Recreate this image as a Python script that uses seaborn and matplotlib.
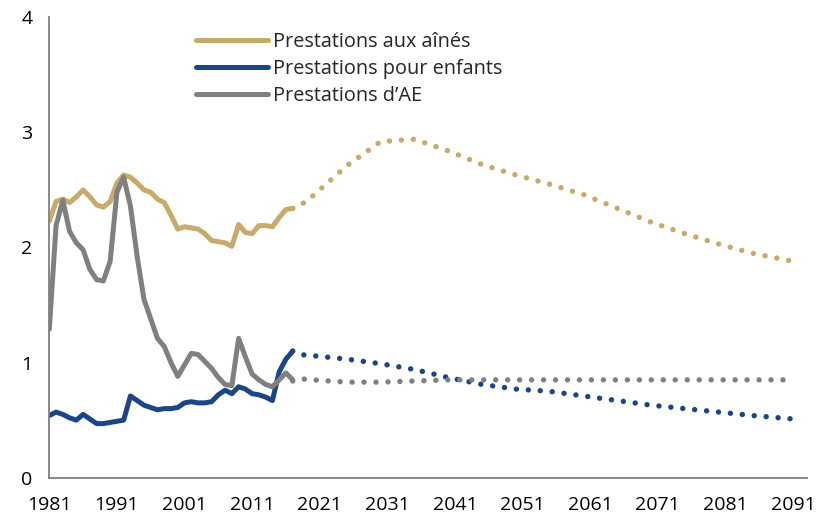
import pandas as pd
import numpy as np
import matplotlib.pyplot as plt
import seaborn as sns
from matplotlib.lines import Line2D

# historical data, 1981-2017
hist_years = list(range(1981, 2018))
aines_hist = [2.23, 2.40, 2.42, 2.39, 2.44, 2.50, 2.44, 2.37, 2.35, 2.40,
              2.56, 2.63, 2.61, 2.56, 2.50, 2.48, 2.42, 2.39, 2.28, 2.16,
              2.18, 2.17, 2.16, 2.12, 2.06, 2.05, 2.04, 2.01, 2.20, 2.13,
              2.12, 2.19, 2.19, 2.18, 2.26, 2.33, 2.34]
enfants_hist = [0.54, 0.57, 0.55, 0.52, 0.50, 0.55, 0.51, 0.47, 0.47, 0.48,
                0.49, 0.50, 0.71, 0.67, 0.63, 0.61, 0.59, 0.60, 0.60, 0.61,
                0.65, 0.66, 0.65, 0.65, 0.66, 0.72, 0.76, 0.73, 0.79, 0.77,
                0.73, 0.72, 0.70, 0.67, 0.92, 1.03, 1.10]
ae_hist = [1.29, 2.19, 2.41, 2.14, 2.04, 1.98, 1.81, 1.72, 1.71, 1.88,
           2.48, 2.61, 2.36, 1.92, 1.55, 1.38, 1.21, 1.14, 1.00, 0.88,
           0.98, 1.08, 1.07, 1.01, 0.95, 0.87, 0.81, 0.80, 1.21, 1.05,
           0.90, 0.85, 0.81, 0.79, 0.85, 0.91, 0.85]

# projections
proj_years = [2017, 2018, 2020, 2025, 2030, 2035, 2040, 2045, 2050, 2055,
              2060, 2065, 2070, 2075, 2080, 2085, 2091]
aines_proj = [2.34, 2.36, 2.45, 2.71, 2.92, 2.94, 2.84, 2.72, 2.63, 2.55,
              2.46, 2.34, 2.22, 2.12, 2.03, 1.95, 1.88]
enfants_proj = [1.10, 1.07, 1.06, 1.03, 0.99, 0.94, 0.87, 0.81, 0.77, 0.75,
                0.71, 0.67, 0.63, 0.60, 0.57, 0.54, 0.51]
ae_proj = [0.84, 0.86, 0.85, 0.83, 0.83, 0.84, 0.85, 0.85, 0.85, 0.85,
           0.85, 0.85, 0.85, 0.85, 0.85, 0.85, 0.85]

labels = ["Prestations aux aînés", "Prestations pour enfants", "Prestations d\u2019AE"]
colors = ["#C8AA6A", "#1C4587", "#808080"]


def main():
    sns.set_style("white")
    plt.rcParams['font.family'] = ['Open Sans', 'DejaVu Sans']

    fig = plt.figure(figsize=(8.23, 5.19), dpi=100)
    ax = fig.add_axes([0.0599, 0.0796, 0.9201, 0.8871])

    hist = pd.DataFrame({"year": hist_years, labels[0]: aines_hist,
                         labels[1]: enfants_hist, labels[2]: ae_hist})
    proj = pd.DataFrame({"year": proj_years, labels[0]: aines_proj,
                         labels[1]: enfants_proj, labels[2]: ae_proj})

    lw = 3.6
    for lab, col in zip(labels, colors):
        sns.lineplot(data=hist, x="year", y=lab, ax=ax, color=col, lw=lw,
                     solid_capstyle='round', solid_joinstyle='round')
        sns.lineplot(data=proj, x="year", y=lab, ax=ax, color=col, lw=3.9,
                     linestyle=(0, (0.01, 2.2)), dash_capstyle='round')

    ax.set_xlim(1981, 2093)
    ax.set_ylim(0, 4)
    ax.set_xticks(range(1981, 2092, 10))
    ax.set_yticks([0, 1, 2, 3, 4])
    ax.set_xlabel("")
    ax.set_ylabel("")

    for s in ["top", "right"]:
        ax.spines[s].set_visible(False)
    for s in ["left", "bottom"]:
        ax.spines[s].set_color("#808080")
        ax.spines[s].set_linewidth(1.3)

    ax.tick_params(axis='both', which='major', direction='out', length=6,
                   width=1.3, color="#808080", labelsize=14, labelcolor='black')
    ax.tick_params(axis='x', pad=7)
    ax.tick_params(axis='y', pad=6)

    handles = [Line2D([0], [0], color=c, lw=lw, solid_capstyle='round') for c in colors]
    ax.legend(handles, labels, loc='upper left', bbox_to_anchor=(196 / 823, 1 - 32 / 519),
              bbox_transform=fig.transFigure, frameon=False, fontsize=14.3,
              handlelength=3.6, handletextpad=0.3, labelspacing=0.36,
              borderaxespad=0, borderpad=0)

    plt.savefig("out.png", dpi=100)


if __name__ == '__main__':
    main()
